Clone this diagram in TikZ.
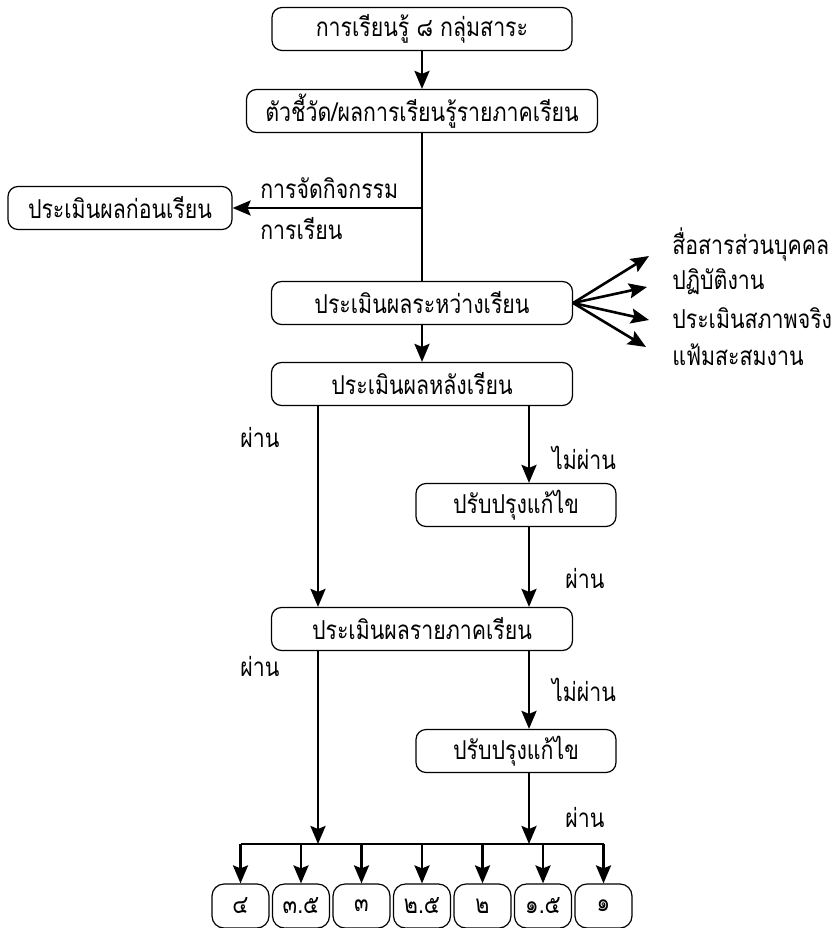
\documentclass[tikz,border=0pt]{standalone}
\usepackage{fontspec}
\newfontfamily\thaifont[Script=Thai,FakeStretch=0.82]{Loma}
\usetikzlibrary{arrows.meta}

\begin{document}
\begin{tikzpicture} [>={Stealth[length=18pt,width=15pt,inset=3pt]},->,x=1pt,y=-1pt,line width=2.6pt,font=\thaifont\fontsize{26}{28}\selectfont]
  \tikzstyle{box}=[draw,-,line width=1.2pt,rounded corners=10pt,minimum height=43pt,inner sep=0pt]
  \tikzstyle{grade}=[box,minimum width=57pt,minimum height=44pt,rounded corners=12pt]
  \tikzstyle{lbl}=[inner sep=0pt]

  \useasboundingbox (0,0) rectangle (831,928);

  \node[box,minimum width=300pt] (A) at (422,29)  {การเรียนรู้ ๘ กลุ่มสาระ};
  \node[box,minimum width=351pt] (B) at (422,111) {ตัวชี้วัด/ผลการเรียนรู้รายภาคเรียน};
  \node[box,minimum width=224pt] (D) at (120,208) {ประเมินผลก่อนเรียน};
  \node[box,minimum width=301pt] (C) at (422,303) {ประเมินผลระหว่างเรียน};
  \node[box,minimum width=301pt] (E) at (422,384) {ประเมินผลหลังเรียน};
  \node[box,minimum width=200pt] (G) at (516,505) {ปรับปรุงแก้ไข};
  \node[box,minimum width=301pt] (F) at (422,629) {ประเมินผลรายภาคเรียน};
  \node[box,minimum width=200pt] (H) at (516,751) {ปรับปรุงแก้ไข};

  \foreach \t [count=\i] in {๔,๓.๕,๓,๒.๕,๒,๑.๕,๑}
    \node[grade] (g\i) at ({240.5+60.5*(\i-1)},906) {\t};

  % labels
  \node[lbl,anchor=west] (l1) at (259,188) {การจัดกิจกรรม};
  \node[lbl,anchor=west] (l2) at (259,229) {การเรียน};
  \node[lbl,anchor=west] (m1) at (671,245) {สื่อสารส่วนบุคคล};
  \node[lbl,anchor=west] (m2) at (671,282) {ปฏิบัติงาน};
  \node[lbl,anchor=west] (m3) at (671,318) {ประเมินสภาพจริง};
  \node[lbl,anchor=west] (m4) at (671,355) {แฟ้มสะสมงาน};
  \node[lbl] (p1) at (260,437) {ผ่าน};
  \node[lbl] (n1) at (584,458) {ไม่ผ่าน};
  \node[lbl] (p2) at (585,578) {ผ่าน};
  \node[lbl] (p3) at (260,666) {ผ่าน};
  \node[lbl] (n2) at (584,690) {ไม่ผ่าน};
  \node[lbl] (p4) at (585,817) {ผ่าน};

  \coordinate (t1) at (649,256);
  \coordinate (t2) at (647,287);
  \coordinate (t3) at (649,320);
  \coordinate (t4) at (646,347);
  \coordinate (bus) at (0,844);
  \coordinate (ll) at (318,0);
  \coordinate (rr) at (529,0);

  \path (A) edge (B)
        (B) edge[-] (C)
        (B.south |- D) edge (D)
        (C.east) edge (t1)
                 edge (t2)
                 edge (t3)
                 edge (t4)
        (C) edge (E)
        (E.south -| ll) edge (F.north -| ll)
        (E.south -| rr) edge (G.north -| rr)
        (G.south -| rr) edge (F.north -| rr)
        (F.south -| ll) edge (ll |- bus)
        (F.south -| rr) edge (H.north -| rr)
        (H.south -| rr) edge (rr |- bus);

  \draw[-] (g1 |- bus) -- (g7 |- bus);
  \foreach \i in {1,...,7}
    \draw (g\i |- bus) -- (g\i.north);
\end{tikzpicture}
\end{document}
